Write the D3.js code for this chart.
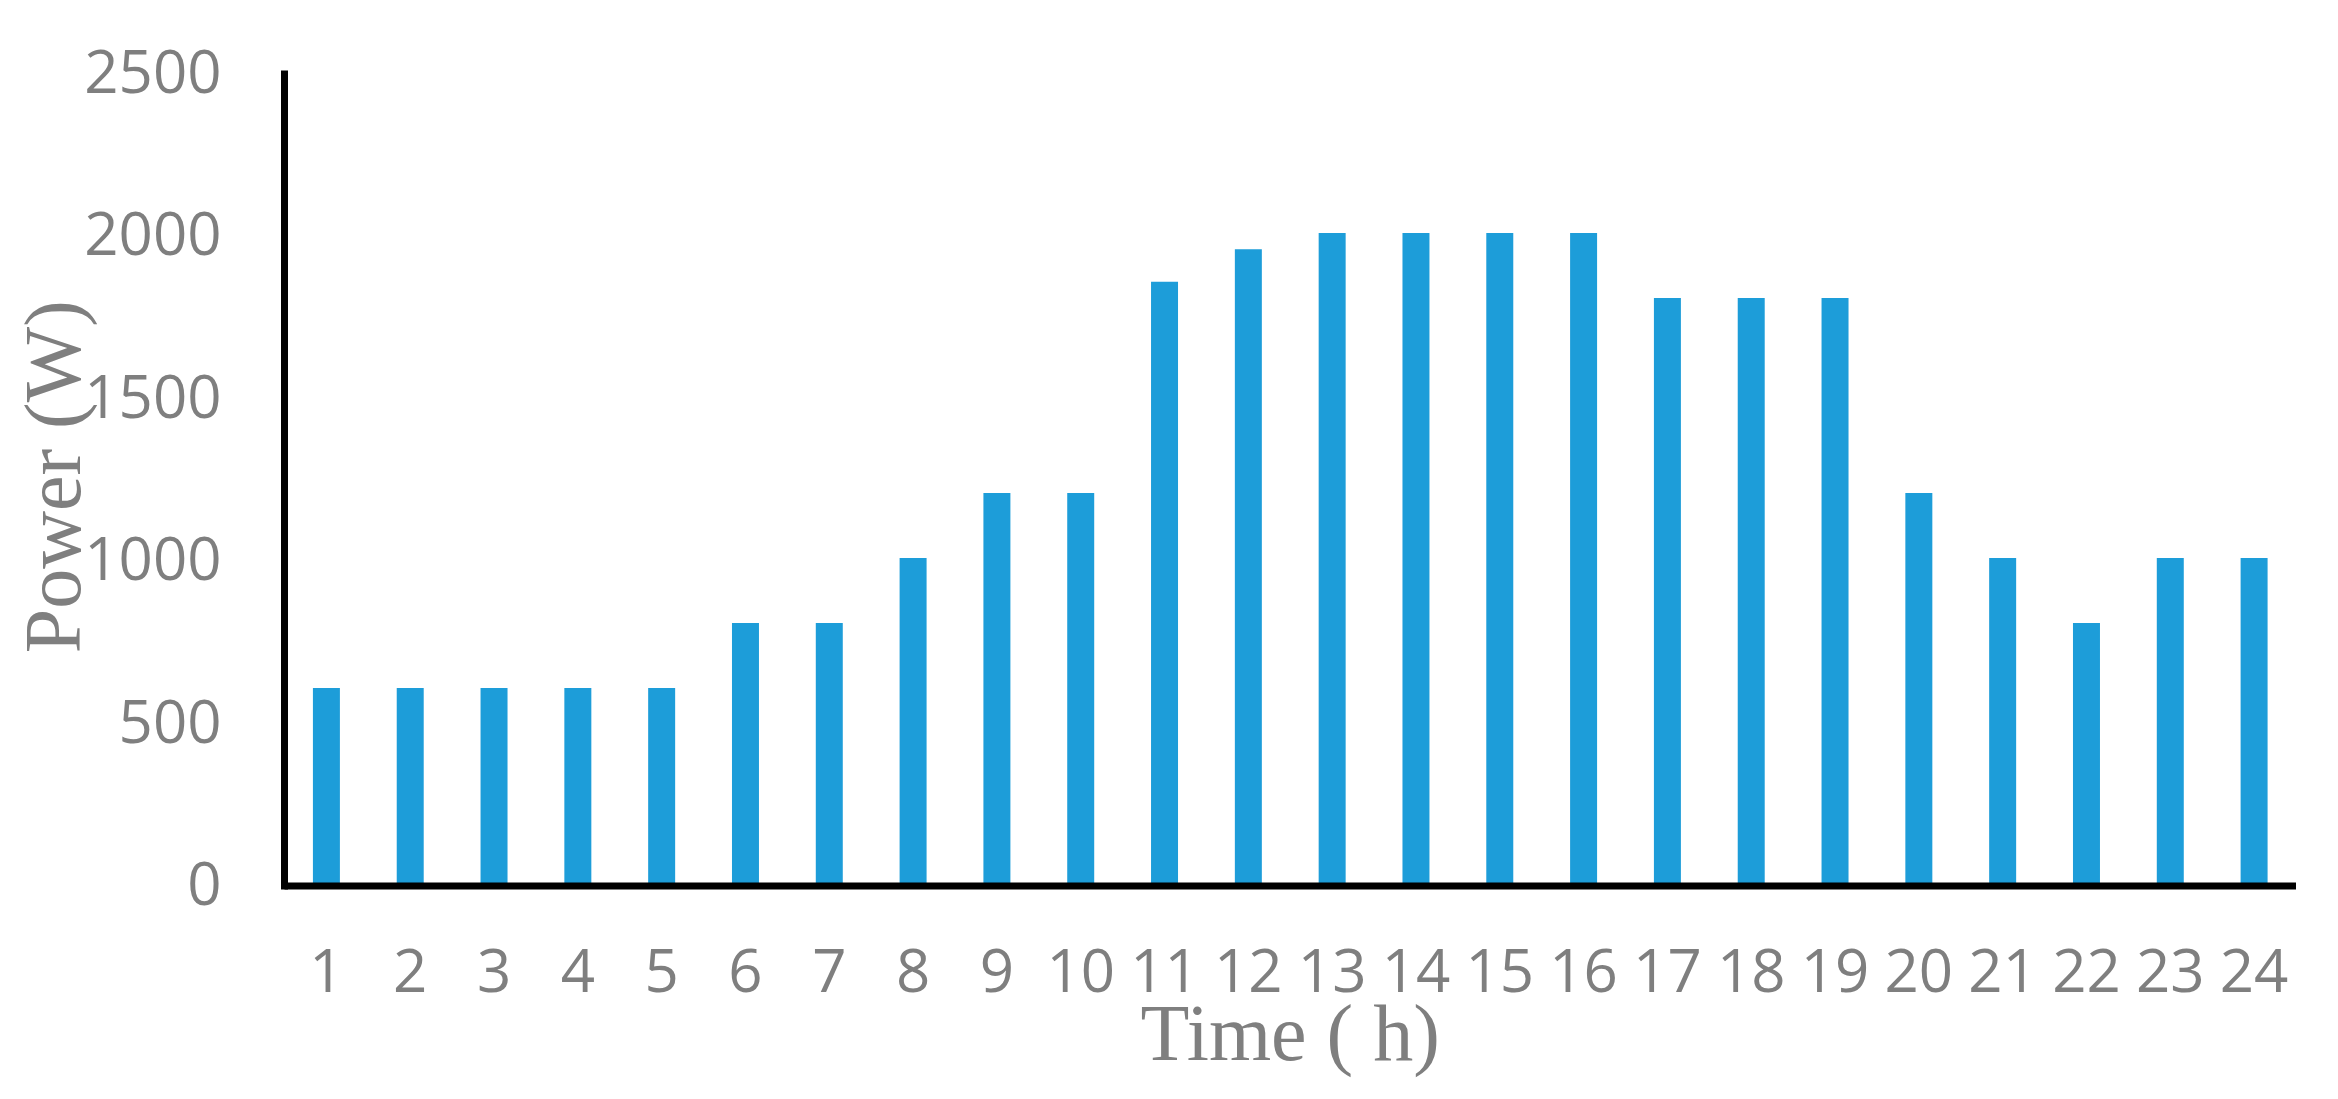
<!DOCTYPE html>
<html>
<head>
<meta charset="utf-8">
<script src="https://cdn.jsdelivr.net/npm/d3@7"></script>
<style>
  body { margin: 0; background: #fff; }
  .tick text { fill: #7f7f7f; font-family: "Open Sans", sans-serif; font-size: 60px; }
  .axis-title { fill: #7f7f7f; font-family: "Liberation Serif", serif; font-size: 80px; }
</style>
</head>
<body>
<div id="chart"></div>
<script>
  var hours = d3.range(1, 25);
  var power = [600, 600, 600, 600, 600, 800, 800, 1000, 1200, 1200, 1850, 1950,
               2000, 2000, 2000, 2000, 1800, 1800, 1800, 1200, 1000, 800, 1000, 1000];
  var yTicks = [0, 500, 1000, 1500, 2000, 2500];

  var outerWidth = 2338,
      outerHeight = 1099,
      plotLeft = 284.5,
      plotRight = 2296,
      plotTop = 70.5,
      plotBottom = 883;

  var svg = d3.select("#chart").append("svg")
      .attr("width", outerWidth)
      .attr("height", outerHeight);

  var x = d3.scaleBand()
      .domain(hours)
      .range([plotLeft, plotRight])
      .paddingInner(0.678)
      .paddingOuter(0.339);

  var y = d3.scaleLinear()
      .domain([0, 2500])
      .range([plotBottom, plotTop]);

  svg.append("g").selectAll("rect")
      .data(power)
    .enter().append("rect")
      .attr("x", (d, i) => x(hours[i]))
      .attr("y", d => y(d))
      .attr("width", x.bandwidth())
      .attr("height", d => y(0) - y(d))
      .attr("fill", "#1d9dd9");

  // y axis: labels only, line drawn separately
  var yAxis = svg.append("g")
      .attr("transform", "translate(" + (plotLeft - 63) + ",0)")
      .call(d3.axisLeft(y).tickValues(yTicks).tickFormat(d3.format("d")).tickSize(0).tickPadding(0));
  yAxis.select(".domain").remove();
  yAxis.selectAll(".tick text").attr("dy", "0.36em");

  var xAxis = svg.append("g")
      .attr("transform", "translate(0," + (plotBottom + 3) + ")")
      .call(d3.axisBottom(x).tickSize(0).tickPadding(0));
  xAxis.select(".domain").remove();
  xAxis.selectAll(".tick text").attr("dy", null).attr("y", 106);

  svg.append("line")
      .attr("x1", plotLeft).attr("x2", plotLeft)
      .attr("y1", plotTop).attr("y2", plotBottom + 6.5)
      .attr("stroke", "#000")
      .attr("stroke-width", 7);

  svg.append("line")
      .attr("x1", plotLeft).attr("x2", plotRight)
      .attr("y1", plotBottom + 3).attr("y2", plotBottom + 3)
      .attr("stroke", "#000")
      .attr("stroke-width", 7);

  svg.append("text")
      .attr("class", "axis-title")
      .attr("text-anchor", "middle")
      .attr("x", (plotLeft + plotRight) / 2)
      .attr("y", 1060)
      .text("Time ( h)");

  svg.append("text")
      .attr("class", "axis-title")
      .attr("text-anchor", "middle")
      .attr("transform", "translate(80," + (plotTop + plotBottom) / 2 + ") rotate(-90)")
      .text("Power (W)");
</script>
</body>
</html>
